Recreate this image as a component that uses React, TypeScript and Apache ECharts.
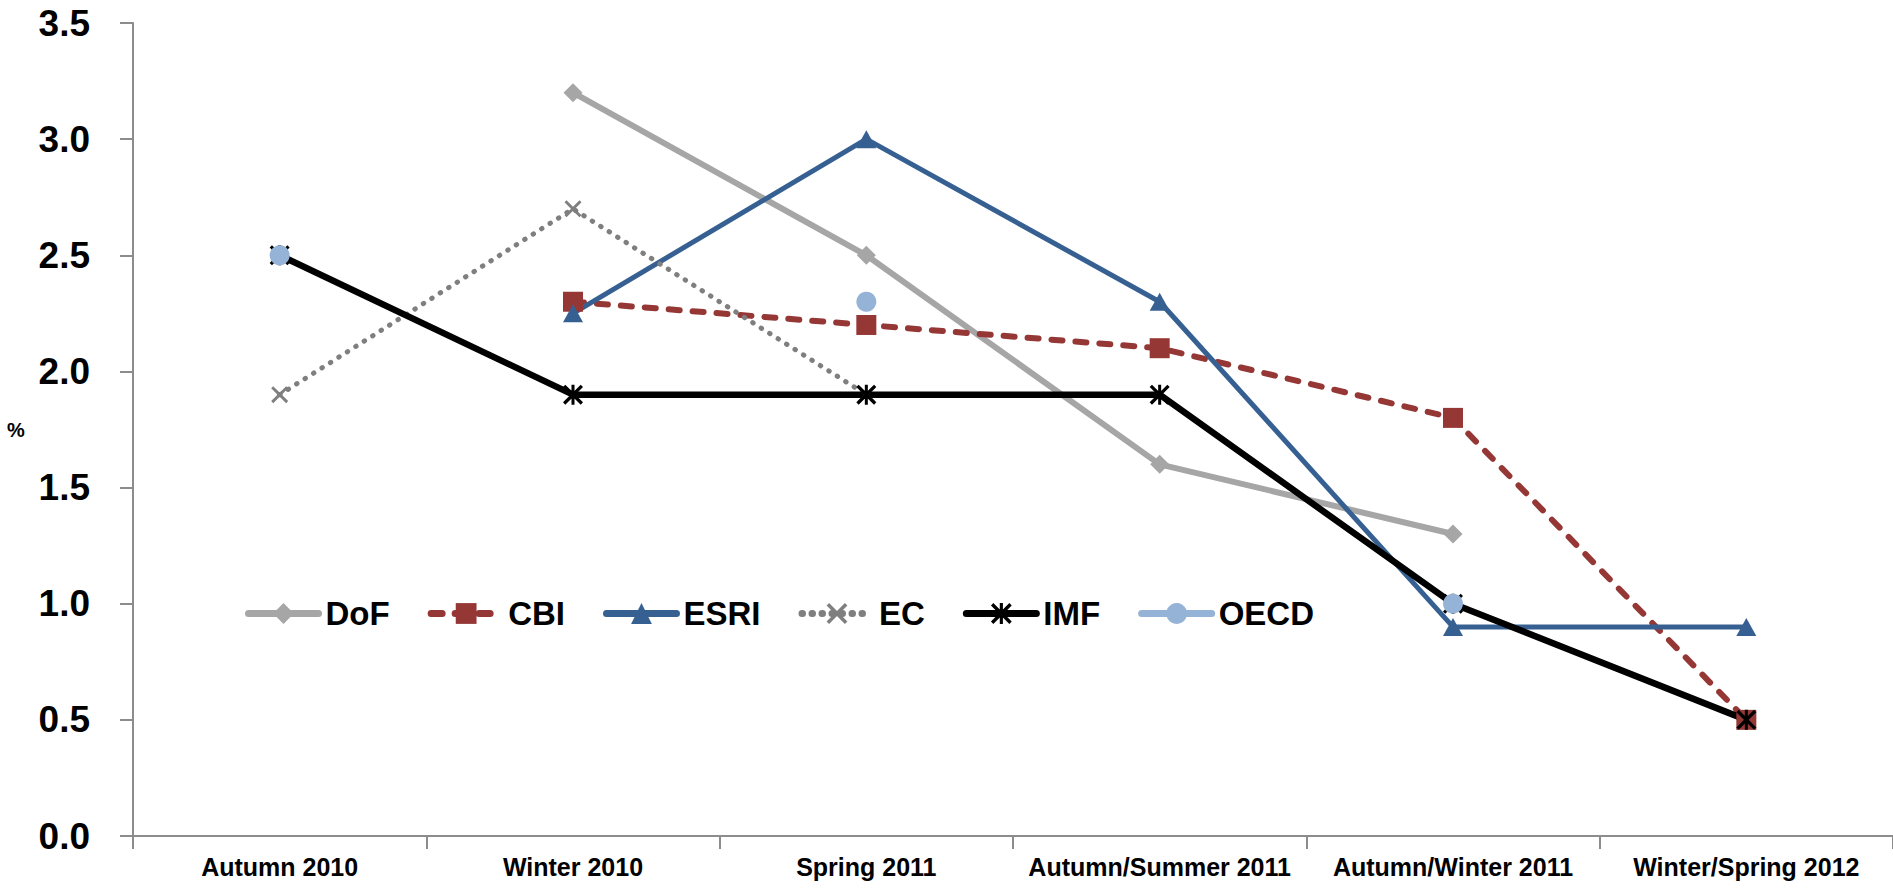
import React, { useEffect, useRef } from "react";
import * as echarts from "echarts";

// Forecast rounds (x-axis categories)
const categories = [
  "Autumn 2010",
  "Winter 2010",
  "Spring 2011",
  "Autumn/Summer 2011",
  "Autumn/Winter 2011",
  "Winter/Spring 2012",
];

// GDP growth forecasts, % (null = no forecast in that round)
const dofValues = [null, 3.2, 2.5, 1.6, 1.3, null];
const cbiValues = [null, 2.3, 2.2, 2.1, 1.8, 0.5];
const esriValues = [null, 2.25, 3.0, 2.3, 0.9, 0.9];
const ecValues = [1.9, 2.7, 1.9, null, null, null];
const imfValues = [2.5, 1.9, 1.9, 1.9, 1.0, 0.5];
const oecdValues = [2.5, null, 2.3, null, 1.0, null];

const yTicks = { min: 0, max: 3.5, interval: 0.5 };

const FONT = "'Liberation Sans', Arial, sans-serif";

// Filled outlines for the cross and asterisk markers
const CROSS_PATH =
  "path://M0,2.4 L2.4,0 L20,17.6 L17.6,20 Z M17.6,0 L20,2.4 L2.4,20 L0,17.6 Z";
const STAR_PATH =
  "path://M0,2.3 L2.3,0 L20,17.7 L17.7,20 Z M17.7,0 L20,2.3 L2.3,20 L0,17.7 Z M8.5,0 L11.5,0 L11.5,20 L8.5,20 Z";

export default function App() {
  const ref = useRef<HTMLDivElement>(null);

  useEffect(() => {
    if (!ref.current) return;
    const chart = echarts.init(ref.current, null, { renderer: "svg" });

    const mk = (
      name: string,
      data: (number | null)[],
      color: string,
      width: number,
      type: any,
      symbol: string,
      symbolSize: number | number[]
    ) => ({
      name,
      type: "line",
      data,
      color,
      symbol,
      symbolSize,
      showSymbol: true,
      showAllSymbol: true,
      connectNulls: false,
      lineStyle: { color, width, type, cap: "round", join: "round" },
      itemStyle: { color, borderWidth: 0 },
      emphasis: { disabled: true },
    });

    chart.setOption({
      animation: false,
      backgroundColor: "#ffffff",
      grid: { left: 133, right: -2, top: 23, bottom: 53, containLabel: false },
      legend: {
        left: 240,
        top: 592,
        itemWidth: 70,
        itemHeight: 26,
        itemGap: 38,
        lineStyle: { width: 7, cap: "round" },
        textStyle: {
          fontFamily: FONT,
          fontWeight: "bold",
          fontSize: 33,
          color: "#000",
          padding: [0, 0, 0, 2],
        },
        data: ["DoF", "CBI", "ESRI", "EC", "IMF", "OECD"],
      },
      xAxis: {
        type: "category",
        data: categories,
        boundaryGap: true,
        axisLine: { lineStyle: { color: "#8c8c8c", width: 2 } },
        axisTick: {
          show: true,
          length: 13,
          inside: false,
          lineStyle: { color: "#8c8c8c", width: 2 },
        },
        axisLabel: {
          interval: 0,
          margin: 18,
          fontFamily: FONT,
          fontWeight: "bold",
          fontSize: 25,
          color: "#000",
        },
        splitLine: { show: false },
      },
      yAxis: {
        type: "value",
        min: yTicks.min,
        max: yTicks.max,
        interval: yTicks.interval,
        axisLine: { show: true, lineStyle: { color: "#8c8c8c", width: 2 } },
        axisTick: {
          show: true,
          length: 13,
          lineStyle: { color: "#8c8c8c", width: 2 },
        },
        axisLabel: {
          margin: 43,
          fontFamily: FONT,
          fontWeight: "bold",
          fontSize: 37,
          color: "#000",
          formatter: (v: number) => v.toFixed(1),
        },
        splitLine: { show: false },
      },
      graphic: [
        {
          type: "text",
          x: 16,
          y: 430,
          style: {
            text: "%",
            fontFamily: FONT,
            fontWeight: "bold",
            fontSize: 20,
            fill: "#000",
            textAlign: "center",
            textVerticalAlign: "middle",
          },
        },
      ],
      series: [
        mk("DoF", dofValues, "#a6a6a6", 6, "solid", "diamond", 19),
        mk("CBI", cbiValues, "#953735", 6, [11, 13], "rect", 20),
        mk("ESRI", esriValues, "#376092", 5, "solid", "triangle", [20, 18]),
        mk("EC", ecValues, "#7f7f7f", 5, [0.5, 9.5], CROSS_PATH, 17),
        mk("IMF", imfValues, "#000000", 6.5, "solid", STAR_PATH, 20),
        mk("OECD", oecdValues, "#95b3d7", 5.5, "solid", "circle", 20),
      ],
    });

    return () => chart.dispose();
  }, []);

  return (
    <div
      ref={ref}
      style={{ position: "fixed", left: 0, top: 0, width: 1893, height: 889 }}
    />
  );
}
